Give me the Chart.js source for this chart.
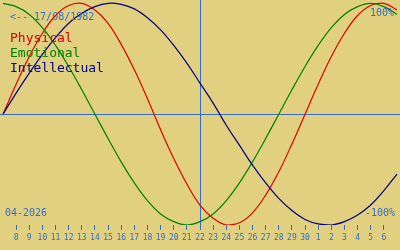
<!DOCTYPE html>
<html>
<head>
<meta charset="utf-8">
<script src="https://cdn.jsdelivr.net/npm/chart.js@4/dist/chart.umd.min.js"></script>
<style>
  html, body { margin: 0; padding: 0; background: #e0d080; }
  #wrap { width: 400px; height: 250px; }
</style>
</head>
<body>
<div id="wrap"><canvas id="bio"></canvas></div>
<script>
// days shown on the axis (7 April .. 7 May 2026)
const dayLabels = ['7', '8', '9', '10', '11', '12', '13', '14', '15', '16', '17', '18', '19', '20', '21',
    '22', '23', '24', '25', '26', '27', '28', '29', '30', '1', '2', '3', '4', '5', '6', '7'];

const physical = [0, 0.27, 0.52, 0.73, 0.89, 0.98, 1.0, 0.94, 0.82, 0.63, 0.40, 0.14, -0.14, -0.40, -0.63,
    -0.82, -0.94, -1.0, -0.98, -0.89, -0.73, -0.52, -0.27, 0, 0.27, 0.52, 0.73, 0.89, 0.98, 1.0, 0.94];

const emotional = [1.0, 0.97, 0.90, 0.78, 0.62, 0.43, 0.22, 0, -0.22, -0.43, -0.62, -0.78, -0.90, -0.97, -1.0,
    -0.97, -0.90, -0.78, -0.62, -0.43, -0.22, 0, 0.22, 0.43, 0.62, 0.78, 0.90, 0.97, 1.0, 0.97, 0.90];

const intellectual = [0, 0.19, 0.37, 0.54, 0.69, 0.82, 0.91, 0.97, 1.0, 0.99, 0.95, 0.87, 0.76, 0.62, 0.46,
    0.28, 0.10, -0.10, -0.28, -0.46, -0.62, -0.76, -0.87, -0.95, -0.99, -1.0, -0.97, -0.91, -0.82, -0.69, -0.54];

const todayIndex = 15;
const birthText = '<-- 17/08/1982';
const monthText = '04-2026';

const blueText = 'rgb(52, 110, 200)';
const bgColor = '#e0d080';

const overlay = {
    id: 'overlay',
    beforeDraw: (chart) => {
        const ctx = chart.ctx;
        ctx.save();
        ctx.fillStyle = bgColor;
        ctx.fillRect(0, 0, chart.width, chart.height);
        ctx.restore();
    },
    beforeDatasetsDraw: (chart) => {
        const ctx = chart.ctx;
        const area = chart.chartArea;
        const x = Math.round(chart.scales.x.getPixelForValue(todayIndex)) + 0.5;
        const y = Math.round(chart.scales.y.getPixelForValue(0)) + 0.5;
        ctx.save();
        ctx.strokeStyle = blueText;
        ctx.lineWidth = 1;
        ctx.beginPath();
        ctx.moveTo(0, y);
        ctx.lineTo(chart.width, y);
        ctx.moveTo(x, area.top);
        ctx.lineTo(x, area.bottom);
        ctx.stroke();
        ctx.restore();
    },
    afterDraw: (chart) => {
        const ctx = chart.ctx;
        ctx.save();
        ctx.textBaseline = 'alphabetic';
        ctx.font = '10px "DejaVu Sans Mono", monospace';
        ctx.fillStyle = blueText;
        ctx.textAlign = 'left';
        ctx.fillText(birthText, 10, 20);
        ctx.fillText(monthText, 5, 216);
        ctx.textAlign = 'right';
        ctx.fillText('100%', 394, 16);
        ctx.fillText('-100%', 395, 216);

        ctx.textAlign = 'left';
        ctx.font = '13px "DejaVu Sans Mono", monospace';
        ctx.fillStyle = '#d80000';
        ctx.fillText('Physical', 10, 42);
        ctx.fillStyle = '#008000';
        ctx.fillText('Emotional', 10, 57);
        ctx.fillStyle = '#000080';
        ctx.fillText('Intellectual', 10, 72);
        ctx.restore();
    }
};

const lineSet = (label, data, color) => ({
    label: label,
    data: data,
    borderColor: color,
    backgroundColor: color,
    borderWidth: 1.2,
    pointRadius: 0,
    tension: 0.4,
    fill: false,
});

const isEdge = (index) => index === 0 || index === dayLabels.length - 1;

new Chart(document.getElementById('bio'), {
    type: 'line',
    data: {
        labels: dayLabels,
        datasets: [
            lineSet('Intellectual', intellectual, '#000080'),
            lineSet('Emotional', emotional, '#008000'),
            lineSet('Physical', physical, '#e00000'),
        ]
    },
    options: {
        responsive: true,
        maintainAspectRatio: false,
        animation: false,
        layout: { padding: 0 },
        plugins: {
            legend: { display: false },
            tooltip: { enabled: false },
        },
        scales: {
            x: {
                offset: false,
                border: { display: false },
                grid: {
                    drawOnChartArea: false,
                    tickLength: 5,
                    color: (c) => isEdge(c.index) ? 'rgba(0,0,0,0)' : blueText,
                },
                ticks: {
                    autoSkip: false,
                    maxRotation: 0,
                    padding: 3,
                    color: blueText,
                    font: { family: '"DejaVu Sans Mono", monospace', size: 8 },
                    callback: (value, index) => isEdge(index) ? '' : dayLabels[index],
                },
                afterFit: (scale) => { scale.height = 25; },
            },
            y: {
                display: false,
                min: -1.0,
                max: 1.03,
            }
        }
    },
    plugins: [overlay]
});
</script>
</body>
</html>
